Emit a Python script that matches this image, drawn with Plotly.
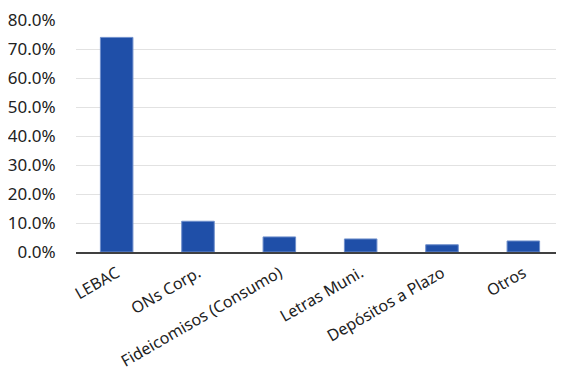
import plotly.graph_objects as go

categories = ["LEBAC", "ONs Corp.", "Fideicomisos (Consumo)", "Letras Muni.", "Depósitos a Plazo", "Otros"]
values = [0.740, 0.106, 0.052, 0.045, 0.025, 0.038]
y_ticks = [0.0, 0.1, 0.2, 0.3, 0.4, 0.5, 0.6, 0.7, 0.8]
y_tick_labels = ["0.0%", "10.0%", "20.0%", "30.0%", "40.0%", "50.0%", "60.0%", "70.0%", "80.0%"]

fig = go.Figure(go.Bar(
    x=categories, y=values,
    marker=dict(color="#1F4FA8", line=dict(color="#6F8FCB", width=1)),
))

# page body has an 8px margin, so the figure is sized to fill the remaining window
fig.update_layout(
    width=556, height=361,
    margin=dict(l=68, r=0, t=12, b=117, autoexpand=False),
    paper_bgcolor="white", plot_bgcolor="white",
    bargap=0.6,
    showlegend=False,
    font=dict(family="Noto Sans", size=15, color="#222222"),
    xaxis=dict(
        automargin=False,
        tickangle=-30,
        showline=True, linecolor="#404040", linewidth=1.5,
        ticks="outside", ticklen=4, tickcolor="rgba(0,0,0,0)",
        showgrid=False,
        ticklabeloverflow="allow",
        tickfont=dict(size=16, color="#222222"),
    ),
    yaxis=dict(
        automargin=False,
        range=[0, 0.8],
        tickvals=y_ticks, ticktext=y_tick_labels,
        showgrid=True, gridcolor="#E2E2E2", gridwidth=1,
        zeroline=False, showline=False,
        ticks="outside", ticklen=16, tickcolor="rgba(0,0,0,0)",
        ticklabeloverflow="allow",
        tickfont=dict(size=17, color="#222222"),
    ),
)

fig.write_html("out.html")
